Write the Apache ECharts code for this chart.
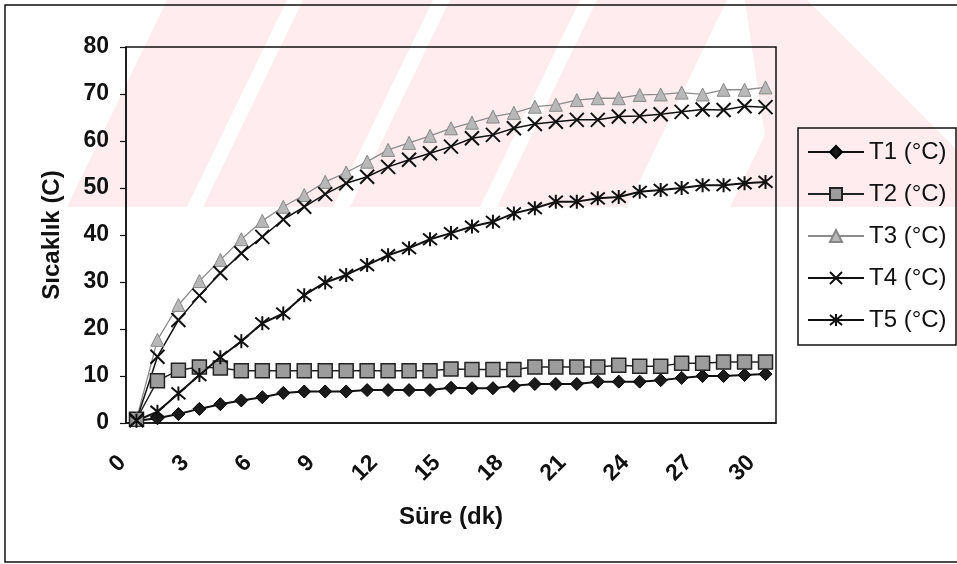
<!DOCTYPE html>
<html>
<head>
<meta charset="utf-8">
<script src="https://cdn.jsdelivr.net/npm/echarts@6/dist/echarts.min.js"></script>
<style>
  html, body { margin: 0; padding: 0; background: #fff; }
  #chart { width: 957px; height: 564px; }
</style>
</head>
<body>
<div id="chart"></div>
<script>
// Süre (dk) 0..30
var minutes = ['0','1','2','3','4','5','6','7','8','9','10','11','12','13','14','15',
               '16','17','18','19','20','21','22','23','24','25','26','27','28','29','30'];

var t1 = [0.5, 1.0, 1.9, 3.0, 4.0, 4.8, 5.5, 6.4, 6.7, 6.7, 6.7, 7.0, 7.0, 7.0, 7.0, 7.5,
          7.4, 7.4, 7.9, 8.3, 8.3, 8.3, 8.8, 8.8, 8.8, 9.1, 9.6, 10.0, 10.0, 10.2, 10.4];
var t2 = [0.8, 9.0, 11.2, 11.9, 11.7, 11.1, 11.1, 11.1, 11.1, 11.1, 11.1, 11.1, 11.1, 11.1, 11.1, 11.5,
          11.4, 11.4, 11.4, 11.9, 11.9, 11.9, 11.9, 12.3, 12.1, 12.1, 12.7, 12.7, 13.0, 13.0, 13.0];
var t3 = [0.8, 17.7, 25.1, 30.2, 34.7, 39.1, 43.0, 46.0, 48.5, 51.3, 53.3, 55.6, 58.1, 59.6, 61.1, 62.7,
          63.9, 65.2, 66.0, 67.3, 67.7, 68.7, 69.1, 69.1, 69.8, 69.9, 70.3, 69.9, 70.9, 70.9, 71.4];
var t4 = [0.6, 14.1, 21.9, 27.1, 31.9, 36.1, 39.6, 43.3, 46.0, 48.7, 51.0, 52.4, 54.5, 56.0, 57.4, 58.8,
          60.6, 61.3, 62.7, 63.6, 64.1, 64.5, 64.5, 65.2, 65.3, 65.7, 66.2, 66.7, 66.6, 67.4, 67.2];
var t5 = [0.5, 2.4, 6.3, 10.2, 14.0, 17.4, 21.2, 23.3, 27.2, 29.9, 31.5, 33.6, 35.7, 37.2, 39.1, 40.4,
          41.8, 42.8, 44.6, 45.7, 47.1, 47.1, 47.8, 48.1, 49.2, 49.6, 50.0, 50.6, 50.6, 51.0, 51.3];

var names = ['T1 (°C)', 'T2 (°C)', 'T3 (°C)', 'T4 (°C)', 'T5 (°C)'];

var FONT = 'Liberation Sans, Arial, sans-serif';
var CROSS = 'path://M0 0L10 10M10 0L0 10';
var STAR = 'path://M0 0L10 10M10 0L0 10M5 -1L5 11';
var PINK = '#feecef';

var chart = echarts.init(document.getElementById('chart'));

// faint watermark bands of the scanned page
function band(pts) {
  return { type: 'polygon', z: -10, silent: true, shape: { points: pts }, style: { fill: PINK } };
}

var option = {
  animation: false,
  backgroundColor: '#fff',
  graphic: [
    band([[67, 207], [187, 207], [287, 0], [167, 0]]),
    band([[203, 207], [333, 207], [433, 0], [303, 0]]),
    band([[350, 207], [480, 207], [580, 0], [450, 0]]),
    band([[497, 207], [627, 207], [727, 0], [597, 0]]),
    band([[643, 207], [730, 207], [765, 135], [745, 0], [807, 0], [1014, 207], [957, 207]]),
    band([[745, 0], [765, 135], [800, 207], [957, 207], [957, 150]]),
    { type: 'rect', z: 50, silent: true, shape: { x: 5, y: 5, width: 960, height: 557 },
      style: { fill: 'none', stroke: '#111', lineWidth: 1.5 } },
    { type: 'rect', z: 50, silent: true, shape: { x: 798, y: 128, width: 158, height: 217 },
      style: { fill: 'none', stroke: '#111', lineWidth: 1.5 } }
  ],
  grid: {
    left: 126, right: 181, top: 47, bottom: 141,
    show: true, borderColor: '#111', borderWidth: 1.5, backgroundColor: 'transparent'
  },
  legend: {
    orient: 'vertical',
    left: 807, top: 138,
    padding: 0,
    itemGap: 14,
    itemWidth: 56, itemHeight: 15,
    textStyle: { fontFamily: FONT, fontSize: 24, color: '#111', lineHeight: 28 },
    data: names
  },
  xAxis: {
    type: 'category',
    data: minutes,
    boundaryGap: true,
    name: 'Süre (dk)',
    nameLocation: 'middle',
    nameGap: 82,
    nameTextStyle: { fontFamily: FONT, fontSize: 24, fontWeight: 'bold', color: '#111' },
    axisLine: { lineStyle: { color: '#111', width: 1.5 } },
    axisTick: { interval: 0, length: 6, lineStyle: { color: '#111', width: 1.2 } },
    axisLabel: {
      interval: 2, rotate: 45, margin: 22, padding: [0, 20, 0, 0],
      fontFamily: FONT, fontSize: 23, fontWeight: 'bold', color: '#111'
    },
    splitLine: { show: false }
  },
  yAxis: {
    type: 'value',
    min: 0, max: 80, interval: 10,
    name: 'Sıcaklık (C)',
    nameLocation: 'middle',
    nameGap: 62,
    nameTextStyle: { fontFamily: FONT, fontSize: 24, fontWeight: 'bold', color: '#111' },
    axisLine: { show: true, lineStyle: { color: '#111', width: 1.5 } },
    axisTick: { show: true, length: 6, lineStyle: { color: '#111', width: 1.2 } },
    axisLabel: { margin: 17, fontFamily: FONT, fontSize: 23, fontWeight: 'bold', color: '#111' },
    splitLine: { show: false }
  },
  series: [
    {
      name: names[0], type: 'line', data: t1, showAllSymbol: true,
      symbol: 'diamond', symbolSize: 13,
      lineStyle: { color: '#111', width: 2 },
      itemStyle: { color: '#1a1a1a', borderColor: '#000', borderWidth: 1 }
    },
    {
      name: names[1], type: 'line', data: t2, showAllSymbol: true,
      symbol: 'rect', symbolSize: 14,
      lineStyle: { color: '#222', width: 1.5 },
      itemStyle: { color: '#9c9c9c', borderColor: '#222', borderWidth: 1.5 }
    },
    {
      name: names[2], type: 'line', data: t3, showAllSymbol: true,
      symbol: 'triangle', symbolSize: 13,
      lineStyle: { color: '#8c8c8c', width: 1.3 },
      itemStyle: { color: '#b8b8b8', borderColor: '#888', borderWidth: 1 }
    },
    {
      name: names[3], type: 'line', data: t4, showAllSymbol: true,
      symbol: CROSS, symbolSize: 14,
      lineStyle: { color: '#111', width: 1.5 },
      itemStyle: { color: 'transparent', borderColor: '#111', borderWidth: 2 }
    },
    {
      name: names[4], type: 'line', data: t5, showAllSymbol: true,
      symbol: STAR, symbolSize: 14,
      lineStyle: { color: '#111', width: 2 },
      itemStyle: { color: 'transparent', borderColor: '#111', borderWidth: 2 }
    }
  ]
};

chart.setOption(option);
</script>
</body>
</html>
